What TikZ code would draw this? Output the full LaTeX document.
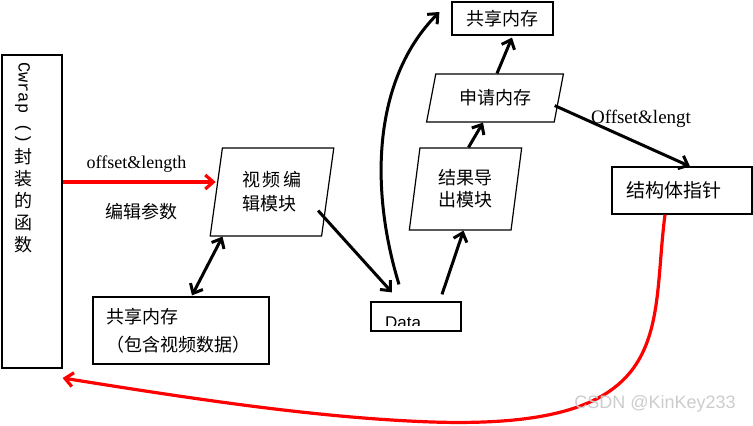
\documentclass[tikz,border=0pt]{standalone}
\usepackage{fontspec}
\setmainfont{Liberation Serif}
\setsansfont{Liberation Sans}
\setmonofont{Liberation Mono}
\newfontfamily\cjk{Noto Sans CJK SC}
\usetikzlibrary{arrows.meta,shapes.geometric,calc}
\tikzset{
  box/.style  ={draw, line width=1.2pt, inner sep=2pt},
  para/.style ={box, trapezium, trapezium stretches=true, align=left},
  cn/.style   ={font=\cjk\fontsize{18}{24}\selectfont},
  lat/.style  ={font=\fontsize{18}{18}\selectfont},
  arr/.style  ={-{Straight Barb[length=8pt,width=14pt]}, line width=3pt},
  darr/.style ={{Straight Barb[length=8pt,width=14pt]}-{Straight Barb[length=8pt,width=14pt]}, line width=3pt},
  rarr/.style ={arr, draw=red, line width=3.2pt},
}

\begin{document}
\begin{tikzpicture}[x=1pt,y=-1pt]
  \useasboundingbox (0,0) rectangle (753,426);

  % the wrapping function, text set vertically
  \node[box, minimum width=60, minimum height=313] (wrap) at (32,211.5) {};
  \node[rotate=-90, anchor=west, inner sep=0pt, font=\ttfamily\fontsize{17}{17}\selectfont] (cwrap) at (23,62) {Cwrap ()};
  \node[cn, align=center, anchor=north, inner sep=0pt, font=\cjk\fontsize{18}{22}\selectfont] (fz) at (23,148) {封\\装\\的\\函\\数};

  % modules and memories
  \node[para, cn, trapezium left angle=80, trapezium right angle=100,
        minimum width=124, minimum height=88] (edit) at (272,192) {视\,频\,编\\辑模块};
  \node[box, cn, align=left, text width=150, minimum width=176, minimum height=67, font=\cjk\fontsize{18}{28}\selectfont] (shm) at (181,330.5) {共享内存\\（包含视频数据）};
  \node[box, minimum width=90, minimum height=29] (data) at (416,316.5) {};
  \begin{scope}
    \clip (data.north west) rectangle ([yshift=6pt]data.south east);
    \node[anchor=base west, inner sep=0pt, font=\sffamily\fontsize{17}{17}\selectfont] (datatxt) at (385,328) {Data};
  \end{scope}
  \node[para, cn, trapezium left angle=81, trapezium right angle=99,
        minimum width=113, minimum height=82, font=\cjk\fontsize{18}{22}\selectfont] (exp) at (465.5,189) {结果导\\出模块};
  \node[para, cn, trapezium left angle=74, trapezium right angle=106,
        minimum width=138, minimum height=48] (apply) at (495,98) {申请内存};
  \node[box, cn, minimum width=101, minimum height=33] (shtop) at (502.5,18.5) {共享内存};
  \node[box, cn, align=left, text width=112, minimum width=140, minimum height=47, font=\cjk\fontsize{19}{24}\selectfont] (struct) at (682,190.5) {结构体指针};

  % labels
  \node[lat, anchor=base] (lblofs) at (136.5,168) {offset\&length};
  \node[cn] (lblparam) at (141,212) {编辑参数};
  \node[lat, anchor=base, font=\fontsize{19}{19}\selectfont] (lblofs2) at (641,123) {Offset\&lengt};

  % connectors
  \draw[rarr] ([yshift=10pt]edit.west -| wrap.east) -- ([yshift=10pt]edit.west);
  \draw[darr] ([xshift=13pt]edit.bottom left corner) -- ([shift={(11,-1)}]shm.north);
  \draw[arr] ([shift={(-4,-26)}]edit.bottom right corner) -- ([shift={(-24,-9)}]data.north);
  \draw[arr] ([shift={(-17,-17)}]data.north) .. controls (370,190) and (372,80) .. ([shift={(-12,-6.5)}]shtop.west);
  \draw[arr] ([shift={(26,-7)}]data.north) -- ([xshift=-2pt]exp.south);
  \draw[arr] ([xshift=3pt]exp.north) -- ([xshift=-12pt]apply.south);
  \draw[arr] ([xshift=2pt]apply.north) -- ([shift={(9.5,2)}]shtop.south);
  \draw[arr] ([shift={(0,-17)}]apply.bottom right corner) -- ([xshift=8pt]struct.north);
  \draw[rarr] ([xshift=-17pt]struct.south) .. controls (650,330) and (680,430) .. (432,422)
              .. controls (320,418) and (200,400) .. ([yshift=-166.5pt]wrap.east);

  \node[font=\sffamily\fontsize{18}{18}\selectfont, text=gray!40] (wm) at (655,404) {CSDN @KinKey233};
\end{tikzpicture}
\end{document}
